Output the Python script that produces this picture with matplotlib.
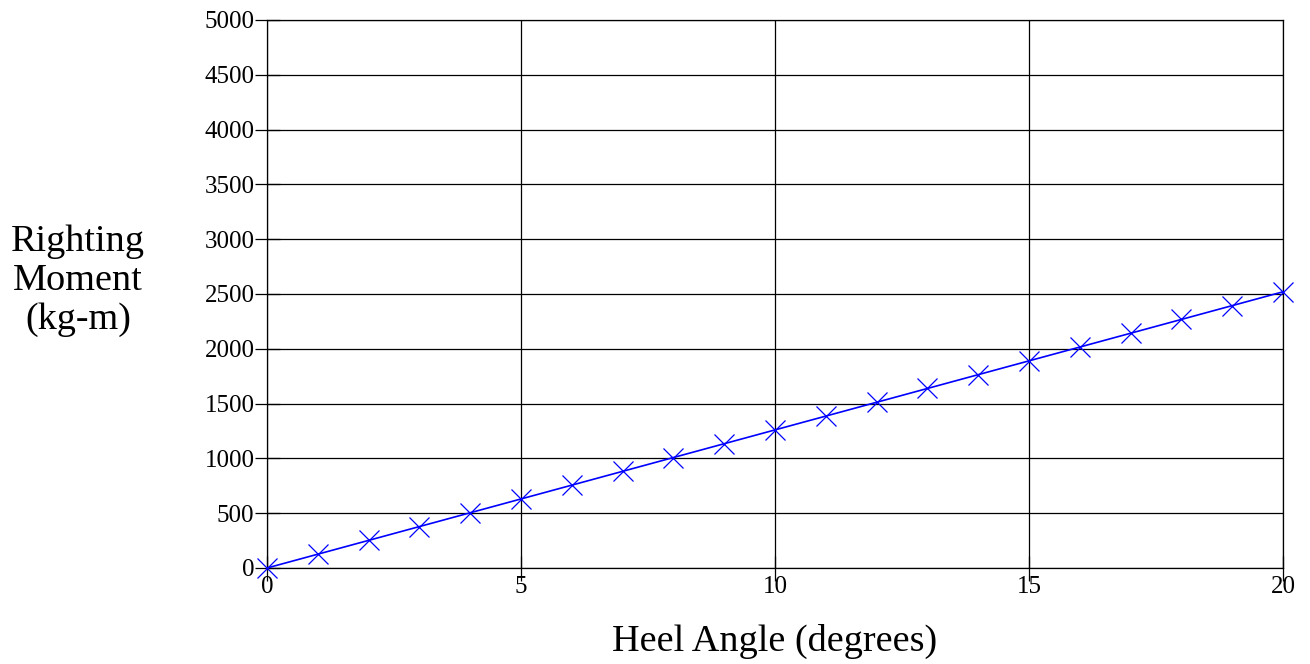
import matplotlib
matplotlib.use("Agg")
import matplotlib.pyplot as plt

heel_angle = [0, 1, 2, 3, 4, 5, 6, 7, 8, 9, 10, 11, 12, 13, 14, 15, 16, 17, 18, 19, 20]
righting_moment = [0, 126, 252, 378, 504, 630, 756, 882, 1008, 1134, 1260,
                   1386, 1512, 1638, 1764, 1890, 2016, 2142, 2268, 2394, 2520]
x_ticks = [0, 5, 10, 15, 20]
y_ticks = list(range(0, 5001, 500))

plt.rcParams["font.family"] = ["Liberation Serif", "DejaVu Serif"]

fig = plt.figure(figsize=(13.1, 6.64), dpi=100)
ax = fig.add_axes([267 / 1310, 96 / 664, 1016 / 1310, 548 / 664])

ax.plot(heel_angle, righting_moment, color="#0000ff", linewidth=1.2,
        marker="x", markersize=14, markeredgewidth=0.9, clip_on=False, zorder=3)

ax.set_xlim(0, 20)
ax.set_ylim(0, 5000)
ax.set_xticks(x_ticks)
ax.set_yticks(y_ticks)
ax.grid(True, color="black", linewidth=0.9)
for s in ax.spines.values():
    s.set_color("black")
    s.set_linewidth(0.9)
ax.tick_params(axis="both", direction="inout", length=18, width=0.9,
               labelsize=18, color="black")
ax.tick_params(axis="x", pad=-3)
ax.tick_params(axis="y", pad=0)

fig.text(775 / 1310, 1 - 641 / 664, "Heel Angle (degrees)", ha="center",
         va="center", fontsize=27.5)
fig.text(78 / 1310, 1 - 281 / 664, "Righting\nMoment\n(kg-m)", ha="center",
         va="center", fontsize=27.5, linespacing=1.17, multialignment="center")

fig.savefig("out.png", dpi=100)
